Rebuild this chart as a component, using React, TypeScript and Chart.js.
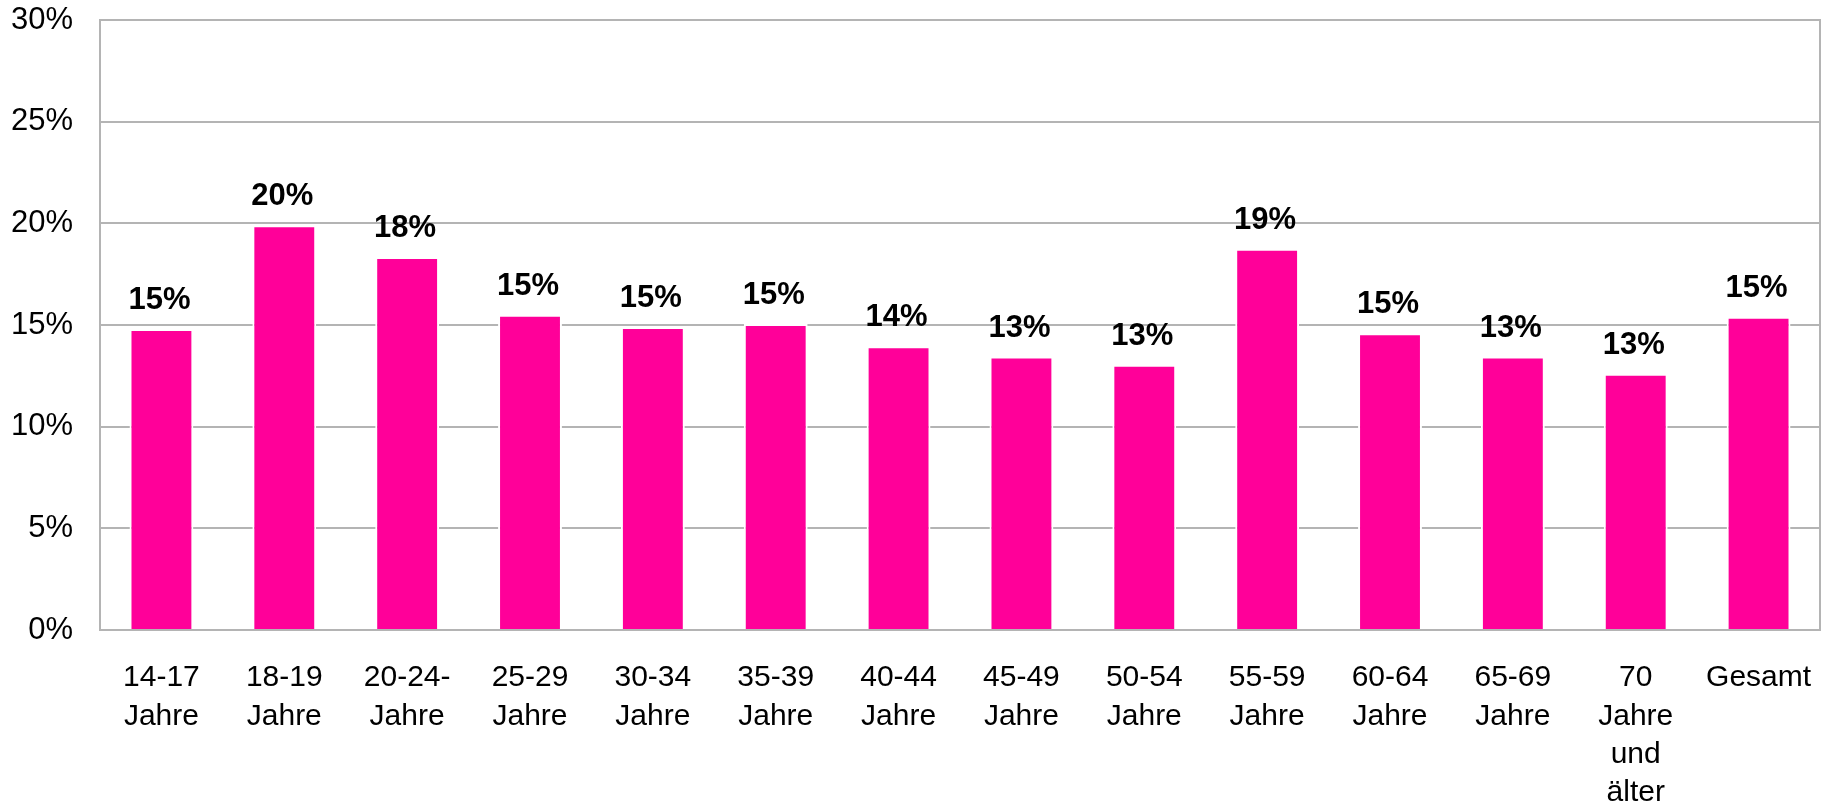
import React, { useEffect, useRef } from "react";
import { Chart, registerables } from "chart.js";

Chart.register(...registerables);

const categories: string[][] = [
  ["14-17", "Jahre"],
  ["18-19", "Jahre"],
  ["20-24-", "Jahre"],
  ["25-29", "Jahre"],
  ["30-34", "Jahre"],
  ["35-39", "Jahre"],
  ["40-44", "Jahre"],
  ["45-49", "Jahre"],
  ["50-54", "Jahre"],
  ["55-59", "Jahre"],
  ["60-64", "Jahre"],
  ["65-69", "Jahre"],
  ["70", "Jahre", "und", "älter"],
  ["Gesamt"],
];

const values: number[] = [14.8, 19.9, 18.35, 15.5, 14.9, 15.05, 13.95, 13.45, 13.05, 18.75, 14.6, 13.45, 12.6, 15.4];

const valueLabels: string[] = ["15%", "20%", "18%", "15%", "15%", "15%", "14%", "13%", "13%", "19%", "15%", "13%", "13%", "15%"];

const yMin = 0;
const yMax = 30;
const yStep = 5;

const FONT = '"Liberation Sans", Arial, Helvetica, sans-serif';
const PINK = "#FF0099";
const GRID = "#b4b4b4";

const barLabelPlugin = {
  id: "barLabels",
  afterDatasetsDraw(chart: any) {
    const ctx = chart.ctx;
    const meta = chart.getDatasetMeta(0);
    ctx.save();
    ctx.font = `bold 31px ${FONT}`;
    ctx.fillStyle = "#000";
    ctx.textAlign = "center";
    ctx.textBaseline = "alphabetic";
    meta.data.forEach((bar: any, i: number) => {
      ctx.fillText(valueLabels[i], bar.x - 2, bar.y - 20);
    });
    ctx.restore();
  },
};

const frameRightPlugin = {
  id: "frameRight",
  beforeDatasetsDraw(chart: any) {
    const { ctx, chartArea } = chart;
    ctx.save();
    ctx.strokeStyle = GRID;
    ctx.lineWidth = 2;
    ctx.beginPath();
    ctx.moveTo(chartArea.right, chartArea.top - 1);
    ctx.lineTo(chartArea.right, chartArea.bottom + 1);
    ctx.stroke();
    ctx.restore();
  },
};

export default function App() {
  const canvasRef = useRef<HTMLCanvasElement | null>(null);

  useEffect(() => {
    document.body.style.margin = "0";
    const canvas = canvasRef.current;
    if (!canvas) return;
    const chart = new Chart(canvas, {
      type: "bar",
      data: {
        labels: categories,
        datasets: [
          {
            data: values,
            backgroundColor: PINK,
            borderColor: "#ffffff",
            borderWidth: 2,
            categoryPercentage: 1,
            barPercentage: 0.52,
          },
        ],
      },
      options: {
        responsive: false,
        animation: false,
        devicePixelRatio: 1,
        layout: { padding: { top: 20, right: 9, left: 0, bottom: 0 } },
        plugins: {
          legend: { display: false },
          tooltip: { enabled: false },
          title: { display: false },
        },
        scales: {
          x: {
            grid: { display: false },
            border: { display: true, color: GRID, width: 2 },
            ticks: {
              color: "#000",
              font: { family: FONT, size: 30, lineHeight: 1.277 },
              padding: 21,
              maxRotation: 0,
              autoSkip: false,
            },
            afterFit: (scale: any) => {
              scale.height = 180;
              scale.paddingLeft = 0;
              scale.paddingRight = 0;
            },
          },
          y: {
            min: yMin,
            max: yMax,
            grid: { color: GRID, lineWidth: 2, drawTicks: false },
            border: { display: true, color: GRID, width: 2 },
            ticks: {
              stepSize: yStep,
              color: "#000",
              font: { family: FONT, size: 31 },
              padding: 27,
              callback: (v: any) => `${v}%`,
            },
            afterFit: (scale: any) => {
              scale.width = 100;
              scale.paddingTop = 0;
              scale.paddingBottom = 0;
            },
          },
        },
      },
      plugins: [frameRightPlugin, barLabelPlugin],
    });
    return () => chart.destroy();
  }, []);

  return (
    <div style={{ position: "absolute", left: 0, top: 0, width: 1829, height: 810, background: "#fff" }}>
      <canvas ref={canvasRef} width={1829} height={810} style={{ display: "block" }} />
    </div>
  );
}
